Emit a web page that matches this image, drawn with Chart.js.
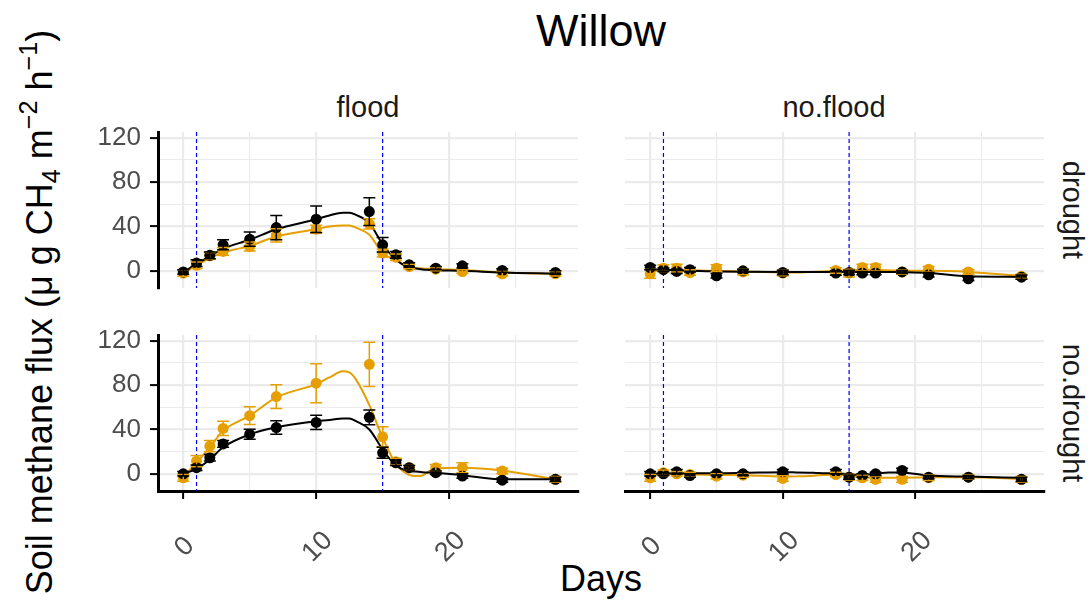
<!DOCTYPE html>
<html>
<head>
<meta charset="utf-8">
<script src="https://cdn.jsdelivr.net/npm/chart.js@4"></script>
<style>
  body { margin: 0; background: #fff; font-family: "Liberation Sans", Arial, sans-serif; }
  #wrap { position: relative; width: 1091px; height: 601px; overflow: hidden; background: #fff; }
  #wrap canvas { position: absolute; }
  .txt { position: absolute; line-height: 1; white-space: nowrap; color: #000; transform: translate(-50%, -50%); }
  .strip { font-size: 29px; color: #1A1A1A; }
  .ytitle sub, .ytitle sup { font-size: 0.7em; line-height: 0; }
  .ytitle sub { vertical-align: -0.3em; }
  .ytitle sup { vertical-align: 0.6em; }
</style>
</head>
<body>
<div id="wrap">
  <div class="txt" style="left:601px; top:30px; font-size:45px;">Willow</div>
  <div class="txt strip" style="left:368px; top:107px;">flood</div>
  <div class="txt strip" style="left:834px; top:107px;">no.flood</div>
  <div class="txt strip" style="left:1072px; top:210px; transform:translate(-50%,-50%) rotate(90deg);">drought</div>
  <div class="txt strip" style="left:1072px; top:413px; transform:translate(-50%,-50%) rotate(90deg);">no.drought</div>
  <div class="txt ytitle" style="left:40px; top:312px; font-size:36px; transform:translate(-50%,-50%) rotate(-90deg);">Soil methane flux (μ g CH<sub>4</sub> m<sup>−2</sup> h<sup>−1</sup>)</div>
  <div class="txt" style="left:601px; top:579px; font-size:36px;">Days</div>
</div>
<script>
// sampling days and days where the smoothed curves were read
const days = [0, 1, 2, 3, 5, 7, 10, 14, 15, 16, 17, 19, 21, 24, 28];
const fitDays = [0, 1, 2, 3, 5, 7, 10, 11, 12, 12.5, 13, 14, 15, 16, 17, 17.5, 18, 18.5, 19, 21, 24, 28];
const floodMarks = [1, 15];

// axis ticks
const xGrid = [0, 5, 10, 15, 20, 25];
const xMajor = [0, 10, 20];
const yGrid = [0, 20, 40, 60, 80, 100, 120];
const yMajor = [0, 40, 80, 120];

// flood / drought
const fdBlack = [-1, 7, 14, 23.5, 28.6, 39, 46.6, 53.5, 23.5, 14.4, 5.4, 2.4, 4.5, 0.3, -1.5];
const fdBlackSe = [2, 3, 3, 4.5, 6.5, 11, 12, 12.5, 6.5, 3, 2, 1.5, 2, 1.5, 1.5];
const fdOrange = [-2, 5, 13.5, 17.5, 22, 32, 37.6, 42.4, 16, 12.3, 3.9, 1.5, -0.6, -2.7, -2.7];
const fdOrangeSe = [3, 3, 3, 3.5, 4, 6, 3.6, 4.6, 3.5, 3, 2, 1.5, 1.5, 2, 2];
const fdBlackFit = [-1, 6, 13, 20, 28, 37.5, 46.5, 50, 52.5, 52.5, 50.5, 43, 24, 10, 3, 2, 1.2, 0.8, 0.5, 0, -1.5, -2.5];
const fdOrangeFit = [-2, 5, 11.5, 16.5, 22.5, 31, 37.5, 40, 41, 41, 39, 32.5, 16, 9.5, 3.5, 2.5, 2, 1.8, 1.5, 0.8, -1.5, -2.7];

// flood / no.drought
const fnBlack = [0, 5.5, 14.5, 27, 35.8, 41.8, 46.4, 51, 19, 10, 5.5, 1, -2, -5.7, -5];
const fnBlackSe = [2, 2.5, 3, 3, 4.5, 6, 6.5, 6.6, 5, 2.5, 2, 1.5, 2, 2, 2];
const fnOrange = [-3.6, 11.5, 25, 41, 52.5, 69.7, 81.8, 98.8, 33.4, 11, 5.5, 5.5, 5.5, 2.5, -5];
const fnOrangeSe = [3, 5, 5, 6.5, 8, 10.7, 17.6, 20, 9, 3, 2, 3, 4.5, 2.5, 2.5];
const fnBlackFit = [0, 4.5, 13, 24, 35.5, 42, 47.5, 48.5, 50, 50, 47.5, 40, 22, 7.5, 2.5, 2, 1.5, 1.2, 1, -1.2, -5, -5];
const fnOrangeFit = [-3, 10, 24, 39, 52.5, 69, 81, 87, 92.5, 91.5, 85, 62, 32.7, 9, -1, -2, -1.5, 2.5, 5, 5.5, 3, -5];

// no.flood / drought
const nfdBlack = [3, 1, -0.5, 1, -4.5, 0, -1.5, -2, -1.5, -2, -2, -1, -3.6, -7.2, -5.7];
const nfdBlackSe = [2, 1.5, 2, 2, 2, 1.5, 2, 2, 2, 1.5, 1.5, 1.5, 2, 1.5, 2];
const nfdOrange = [-2.7, 2.4, 2.4, -1.5, 2.4, -1, -2, 0.3, -2, 3, 3, -1, 1.5, -1, -5];
const nfdOrangeSe = [4, 3, 3.5, 2.5, 3, 2.5, 2.5, 2.5, 3.5, 3, 3, 2, 2.5, 2, 2];
const nfdBlackFit = [1.5, 1, 0.5, 0, -0.5, -0.8, -1, -1, -1, -1, -1, -1, -1, -1, -1, -1, -1, -1.1, -1.2, -2, -5, -5.5];
const nfdOrangeFit = [-0.5, 0.5, 1, 0.5, 0, -0.5, -1.5, -1.5, -1, -0.8, -0.5, 0, 0.5, 1, 1, 0.8, 0.5, 0.2, 0, 0, -1, -4.5];

// no.flood / no.drought
const nnBlack = [0, 0, 1.8, -1.5, 0, 0, 1.8, 1.8, -3, -1.5, 0, 3, -3, -3, -5];
const nnBlackSe = [2, 1.5, 2, 1.5, 1.5, 1.5, 2, 2, 2, 1.5, 1.5, 2, 1.5, 1.5, 2];
const nnOrange = [-3.6, 1, 0, -0.6, -2.1, -1.2, -4.2, -0.6, -3, -3.6, -5, -5, -3.6, -3, -5];
const nnOrangeSe = [3, 2.5, 2, 2, 2.5, 2, 2.5, 2, 2.5, 2.5, 2.5, 2.5, 2.5, 2, 2.5];
const nnBlackFit = [0, 0.3, 0.5, 0.5, 0.5, 0.8, 1.5, 1.3, 1, 0.8, 0.6, 0.5, -0.5, -0.8, 0, 0.8, 1.2, 1.3, 1.2, -1.5, -2.5, -3.6];
const nnOrangeFit = [-1.5, 0, -0.2, -0.5, -1, -1.2, -2.5, -2.3, -2, -1.5, -1, -0.5, -2, -3, -3.5, -3.5, -3.5, -3.5, -3.5, -3, -3, -4.5];

const BLACK = '#000000';
const ORANGE = '#E69F00';
const GRID = '#EBEBEB';
const TICK_TXT = '#4D4D4D';
const FONT = '"Liberation Sans", Arial, sans-serif';

// panel placement (plot area in page pixels)
const colLeft = [158, 625];
const colWidth = [420, 419];
const rowTop = [132, 335];
const rowHeight = 156;
const PAD = { left: 70, right: 6, top: 16, bottom: 95 };

const panels = [
  { col: 0, row: 0, b: fdBlack, bSe: fdBlackSe, bFit: fdBlackFit, o: fdOrange, oSe: fdOrangeSe, oFit: fdOrangeFit },
  { col: 1, row: 0, b: nfdBlack, bSe: nfdBlackSe, bFit: nfdBlackFit, o: nfdOrange, oSe: nfdOrangeSe, oFit: nfdOrangeFit },
  { col: 0, row: 1, b: fnBlack, bSe: fnBlackSe, bFit: fnBlackFit, o: fnOrange, oSe: fnOrangeSe, oFit: fnOrangeFit },
  { col: 1, row: 1, b: nnBlack, bSe: nnBlackSe, bFit: nnBlackFit, o: nnOrange, oSe: nnOrangeSe, oFit: nnOrangeFit }
];

// dashed flood markers, error bars and tick labels
const facetDecor = {
  id: 'facetDecor',
  beforeDatasetsDraw(chart) {
    const { ctx, chartArea: a, scales: { x } } = chart;
    ctx.save();
    ctx.strokeStyle = '#0000FF';
    ctx.lineWidth = 1.2;
    ctx.setLineDash([4, 3]);
    floodMarks.forEach(d => {
      const px = x.getPixelForValue(d);
      ctx.beginPath();
      ctx.moveTo(px, a.top);
      ctx.lineTo(px, a.bottom);
      ctx.stroke();
    });
    ctx.restore();
  },
  afterDatasetsDraw(chart) {
    const { ctx, scales: { x, y } } = chart;
    ctx.save();
    const sets = chart.data.datasets;
    for (let i = sets.length - 1; i >= 0; i--) {
      const ds = sets[i];
      if (!ds.errors) continue;
      ctx.strokeStyle = ds.backgroundColor;
      ctx.lineWidth = 1.5;
      ds.data.forEach((p, j) => {
        const px = x.getPixelForValue(p.x);
        const t = y.getPixelForValue(p.y + ds.errors[j]);
        const b = y.getPixelForValue(p.y - ds.errors[j]);
        ctx.beginPath();
        ctx.moveTo(px, t); ctx.lineTo(px, b);
        ctx.moveTo(px - 6, t); ctx.lineTo(px + 6, t);
        ctx.moveTo(px - 6, b); ctx.lineTo(px + 6, b);
        ctx.stroke();
      });
    }
    ctx.restore();
  },
  afterDraw(chart, args, opts) {
    const { ctx, chartArea: a, scales: { x, y } } = chart;
    ctx.save();
    ctx.fillStyle = TICK_TXT;
    ctx.font = '26px ' + FONT;
    if (opts.yLabels) {
      ctx.textAlign = 'right';
      ctx.textBaseline = 'middle';
      yMajor.forEach(v => ctx.fillText(String(v), a.left - 17, y.getPixelForValue(v)));
    }
    if (opts.xLabels) {
      ctx.font = '27px ' + FONT;
      ctx.textAlign = 'center';
      ctx.textBaseline = 'middle';
      xMajor.forEach(v => {
        ctx.save();
        ctx.translate(x.getPixelForValue(v) + 1.5, a.bottom + 56);
        ctx.rotate(-Math.PI / 4);
        ctx.fillText(String(v), 0, 0);
        ctx.restore();
      });
    }
    ctx.restore();
  }
};

const wrap = document.getElementById('wrap');
const isMajor = (list, c) => c.tick && list.includes(c.tick.value);

panels.forEach(p => {
  const w = colWidth[p.col];
  const cv = document.createElement('canvas');
  cv.width = PAD.left + w + PAD.right;
  cv.height = PAD.top + rowHeight + PAD.bottom;
  cv.style.left = (colLeft[p.col] - PAD.left) + 'px';
  cv.style.top = (rowTop[p.row] - PAD.top) + 'px';
  wrap.appendChild(cv);

  const showY = p.col === 0;
  const showX = p.row === 1;
  const pts = vals => vals.map((v, i) => ({ x: days[i], y: v }));
  const fit = vals => vals.map((v, i) => ({ x: fitDays[i], y: v }));

  new Chart(cv, {
    type: 'scatter',
    data: {
      datasets: [
        { data: pts(p.b), errors: p.bSe, backgroundColor: BLACK, borderWidth: 0, pointRadius: 5.5 },
        { data: pts(p.o), errors: p.oSe, backgroundColor: ORANGE, borderWidth: 0, pointRadius: 5.5 },
        { data: fit(p.bFit), showLine: true, borderColor: BLACK, borderWidth: 2, pointRadius: 0, cubicInterpolationMode: 'monotone' },
        { data: fit(p.oFit), showLine: true, borderColor: ORANGE, borderWidth: 2, pointRadius: 0, cubicInterpolationMode: 'monotone' }
      ]
    },
    options: {
      responsive: false,
      animation: false,
      devicePixelRatio: 1,
      layout: { padding: PAD },
      plugins: {
        legend: { display: false },
        tooltip: { enabled: false },
        facetDecor: { yLabels: showY, xLabels: showX }
      },
      scales: {
        x: {
          type: 'linear',
          min: -1.9,
          max: 29.7,
          afterBuildTicks: s => { s.ticks = xGrid.map(v => ({ value: v })); },
          afterFit: s => { s.height = 0; },
          ticks: { display: false },
          grid: {
            color: GRID,
            lineWidth: c => isMajor(xMajor, c) ? 2.2 : 1.1,
            drawTicks: showX,
            tickLength: 8,
            tickWidth: 2,
            tickColor: c => isMajor(xMajor, c) ? '#000' : 'rgba(0,0,0,0)'
          },
          border: { display: showX, color: '#000', width: 3 }
        },
        y: {
          type: 'linear',
          min: -15.5,
          max: 125.3,
          afterBuildTicks: s => { s.ticks = yGrid.map(v => ({ value: v })); },
          afterFit: s => { s.width = 0; },
          ticks: { display: false },
          grid: {
            color: GRID,
            lineWidth: c => isMajor(yMajor, c) ? 2.2 : 1.1,
            drawTicks: showY,
            tickLength: 8,
            tickWidth: 2,
            tickColor: c => isMajor(yMajor, c) ? '#000' : 'rgba(0,0,0,0)'
          },
          border: { display: showY, color: '#000', width: 3 }
        }
      }
    },
    plugins: [facetDecor]
  });
});
</script>
</body>
</html>
